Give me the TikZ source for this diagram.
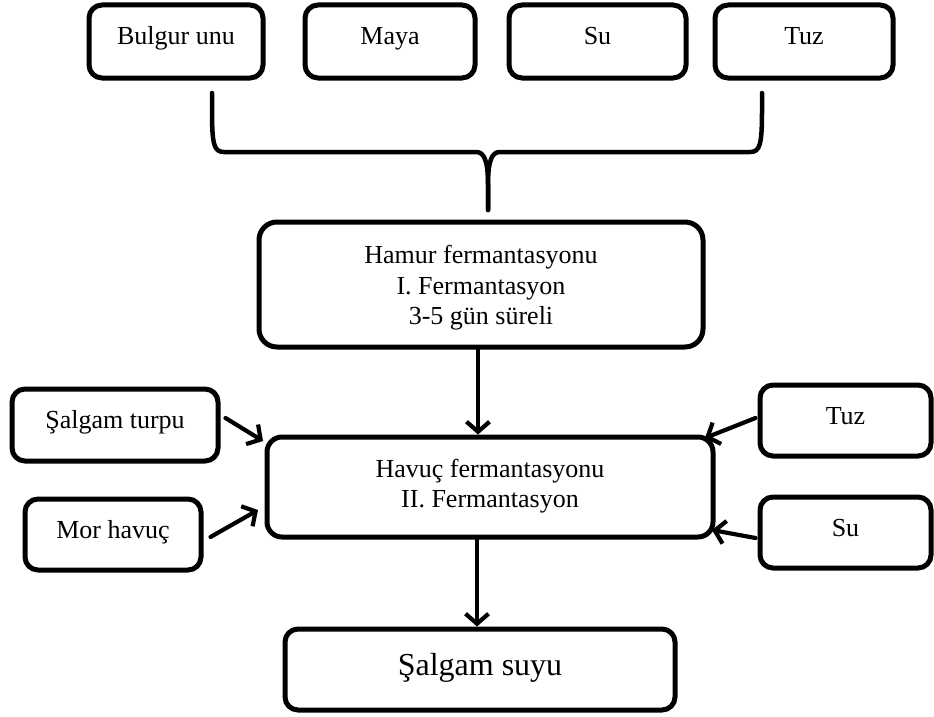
\documentclass[tikz,border=0pt]{standalone}
\usepackage{fontspec}
\setmainfont{Liberation Serif}
\usetikzlibrary{arrows.meta,calc}
\begin{document}
\begin{tikzpicture}[x=1pt,y=-1pt,
  box/.style={draw, line width=5pt, rounded corners=13pt, inner sep=0pt},
  lbl/.style={font=\fontsize{26}{31}\selectfont, text height=18pt, text depth=6pt, yshift=2.5pt},
  mlbl/.style={font=\fontsize{26}{30.5}\selectfont, align=center},
  arr/.style={line width=4.2pt, -{Straight Barb[length=10pt,width=23pt]}, line cap=round},
  brace/.style={line width=4.5pt, line cap=round, line join=round}]
\useasboundingbox (0,0) rectangle (934,717);

% top ingredient boxes
\node[box, minimum width=174pt, minimum height=73pt, label={[lbl]center:Bulgur unu}] (b1) at (176,41.5) {};
\node[box, minimum width=170pt, minimum height=73pt, label={[lbl]center:Maya}] (b2) at (390,41.5) {};
\node[box, minimum width=177pt, minimum height=73pt, label={[lbl]center:Su}] (b3) at (597.5,41.5) {};
\node[box, minimum width=178pt, minimum height=73pt, label={[lbl]center:Tuz}] (b4) at (804,41.5) {};

% brace
\coordinate (brL) at (212,93);
\coordinate (brR) at (762,93);
\coordinate (brT) at (488,210);
\draw[brace] (brL) -- (212,110) .. controls (212,145) and (214,152) .. (224,152)
  -- (476,152) .. controls (484,152) and (488,160) .. (488,185) -- (brT);
\draw[brace] (brT) -- (488,185) .. controls (488,160) and (492,152) .. (500,152)
  -- (750,152) .. controls (760,152) and (762,145) .. (762,110) -- (brR);

% Hamur fermantasyonu
\node[box, rounded corners=18pt, minimum width=444pt, minimum height=125pt,
  label={[mlbl, yshift=-3.5pt]center:Hamur fermantasyonu\\I. Fermantasyon\\3-5 gün süreli}] (hamur) at (481,284.5) {};

% Havuc fermantasyonu
\node[box, rounded corners=15pt, minimum width=446pt, minimum height=100pt,
  label={[mlbl, yshift=1pt]center:Havuç fermantasyonu\\II. Fermantasyon}] (havuc) at (490,487) {};

% side boxes
\node[box, minimum width=206pt, minimum height=72pt, label={[lbl]center:Şalgam turpu}] (turpu) at (115,425) {};
\node[box, minimum width=176pt, minimum height=71pt, label={[lbl]center:Mor havuç}] (mor) at (113,534.5) {};
\node[box, minimum width=171pt, minimum height=71pt, label={[lbl]center:Tuz}] (tuzr) at (845.5,420.5) {};
\node[box, minimum width=171pt, minimum height=71pt, label={[lbl]center:Su}] (sur) at (845.5,532.5) {};

% result
\node[box, minimum width=390pt, minimum height=81pt,
  label={[font=\fontsize{32}{36}\selectfont, text height=22pt, text depth=7.5pt, yshift=1.5pt]center:Şalgam suyu}] (suyu) at (480,669.5) {};

% arrows
\coordinate (t1) at (263,441);
\coordinate (t2) at (258,510);
\coordinate (t3) at (705,438);
\coordinate (t4) at (712,530);
\draw[arr] ($(hamur.south)+(-3,0)$) -- ($(hamur.south |- havuc.north)+(-3,0)$);
\draw[arr] ($(suyu.north |- havuc.south)+(-3,0)$) -- ($(suyu.north)+(-3,0)$);
\draw[arr] ($(turpu.east)+(5,-7)$) -- (t1);
\draw[arr] ($(mor.east)+(7,2.5)$) -- (t2);
\draw[arr] ($(tuzr.west)+(-2,-2.5)$) -- (t3);
\draw[arr] ($(sur.west)+(-2,5.5)$) -- (t4);
\end{tikzpicture}
\end{document}
